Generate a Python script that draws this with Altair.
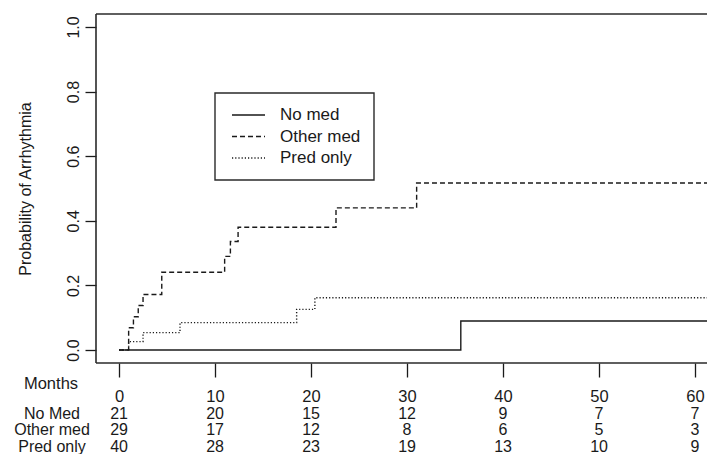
import altair as alt
import pandas as pd

# ---- data ----
series_names = ["No med", "Other med", "Pred only"]

no_med_t = [0, 35.6, 62.4]
no_med_p = [0, 0.09, 0.09]

other_t = [0, 1.0, 1.5, 2.0, 2.5, 4.45, 11.0, 11.6, 12.4, 22.6, 31.0, 62.4]
other_p = [0, 0.069, 0.103, 0.138, 0.172, 0.241, 0.29, 0.336, 0.38, 0.44, 0.517, 0.517]

pred_t = [0, 1.0, 2.5, 6.35, 18.5, 20.4, 62.4]
pred_p = [0, 0.026, 0.054, 0.085, 0.126, 0.162, 0.162]

risk_months = [0, 10, 20, 30, 40, 50, 60]
risk_rows = ["No Med", "Other med", "Pred only"]
risk_no_med = [21, 20, 15, 12, 9, 7, 7]
risk_other = [29, 17, 12, 8, 6, 5, 3]
risk_pred = [40, 28, 23, 19, 13, 10, 9]

y_ticks = [0.0, 0.2, 0.4, 0.6, 0.8, 1.0]

# ---- layout constants ----
W, H = 611, 349
PX_PER_MONTH = 9.6
FONT = "Liberation Sans"
INK = "#1a1a1a"
TFS = 16  # table font size

rows = []
for name, ts, ps in [("No med", no_med_t, no_med_p),
                     ("Other med", other_t, other_p),
                     ("Pred only", pred_t, pred_p)]:
    for t, p in zip(ts, ps):
        rows.append({"series": name, "t": t, "p": p})
curves = pd.DataFrame(rows)

xscale = alt.Scale(domain=[-2.4, -2.4 + W / PX_PER_MONTH], nice=False, zero=False)
yscale = alt.Scale(domain=[-0.04, 1.04], nice=False, zero=False)

dash_scale = alt.Scale(domain=series_names, range=[[1, 0], [5, 3], [1.2, 2]])

lines = alt.Chart(curves).mark_line(
    interpolate="step-after", color=INK, strokeWidth=1.4, clip=True
).encode(
    x=alt.X("t:Q", scale=xscale, axis=alt.Axis(
        values=risk_months, title=None, domain=False, grid=False,
        tickColor=INK, tickSize=14, tickWidth=1.3,
        labelFont=FONT, labelFontSize=TFS + 0.5, labelColor=INK, labelPadding=11,
        labelFlush=False)),
    y=alt.Y("p:Q", scale=yscale, axis=alt.Axis(
        values=y_ticks, format=".1f", domain=False, grid=False,
        tickColor=INK, tickSize=11, tickWidth=1.3,
        labelFont=FONT, labelFontSize=16, labelColor=INK,
        labelAngle=270, labelAlign="center", labelBaseline="alphabetic",
        labelPadding=7, labelFlush=False,
        title="Probability of Arrhythmia", titleFont=FONT, titleFontSize=16,
        titleFontWeight="normal", titleColor=INK, titleAngle=270,
        titleAlign="center", titleBaseline="alphabetic",
        titleX=-66, titleY=H / 2)),
    strokeDash=alt.StrokeDash("series:N", scale=dash_scale, legend=None),
    detail="series:N",
)

# plot box (top, left, bottom) -- right edge lies outside the picture
box_df = pd.DataFrame({"k": [0]})
box_top = alt.Chart(box_df).mark_rule(color="#2a2a2a", strokeWidth=1.6).encode(
    x=alt.value(0), x2=alt.value(W + 10), y=alt.value(0))
box_left = alt.Chart(box_df).mark_rule(color="#2a2a2a", strokeWidth=1.6).encode(
    x=alt.value(0), y=alt.value(0), y2=alt.value(H))
box_bottom = alt.Chart(box_df).mark_rule(color="#2a2a2a", strokeWidth=1.6).encode(
    x=alt.value(0), x2=alt.value(W + 10), y=alt.value(H))

# legend (drawn by hand, R style)
leg_box = alt.Chart(box_df).mark_rect(
    fill="white", stroke="#2a2a2a", strokeWidth=1.4
).encode(x=alt.value(119), x2=alt.value(278), y=alt.value(79), y2=alt.value(166))

leg_y = [101, 122.5, 144]
leg_dash = [[1, 0], [5, 3], [1.2, 2]]
legend_layers = [leg_box]
for name, yy, dsh in zip(series_names, leg_y, leg_dash):
    d = pd.DataFrame({"label": [name]})
    legend_layers.append(
        alt.Chart(d).mark_rule(color=INK, strokeWidth=1.4, strokeDash=dsh).encode(
            x=alt.value(136), x2=alt.value(169), y=alt.value(yy)))
    legend_layers.append(
        alt.Chart(d).mark_text(align="left", baseline="middle", font=FONT,
                               fontSize=17, color=INK).encode(
            x=alt.value(184), y=alt.value(yy), text="label:N"))

# number-at-risk table
table_layers = []
months_df = pd.DataFrame({"label": ["Months"]})
table_layers.append(
    alt.Chart(months_df).mark_text(align="center", baseline="middle", font=FONT,
                                   fontSize=TFS + 0.5, color=INK).encode(
        x=alt.value(-45), y=alt.value(370), text="label:N"))
row_y = [399.5, 416, 432.5]
for rname, vals, yy in zip(risk_rows, [risk_no_med, risk_other, risk_pred], row_y):
    lab = pd.DataFrame({"label": [rname]})
    table_layers.append(
        alt.Chart(lab).mark_text(align="center", baseline="middle", font=FONT,
                                 fontSize=TFS, color=INK).encode(
            x=alt.value(-44), y=alt.value(yy), text="label:N"))
    nd = pd.DataFrame({"t": risk_months, "n": vals})
    table_layers.append(
        alt.Chart(nd).mark_text(align="center", baseline="middle", font=FONT,
                                fontSize=TFS, color=INK).encode(
            x=alt.X("t:Q", scale=xscale), y=alt.value(yy), text="n:Q"))

chart = alt.layer(
    lines, box_top, box_left, box_bottom, *legend_layers, *table_layers
).properties(
    width=W, height=H,
    autosize=alt.AutoSizeParams(type="none"),
    padding={"left": 88, "top": 6, "right": 0, "bottom": 91},
    background="white",
).configure_view(stroke=None)

chart.save("out.html", embed_options={"renderer": "svg", "actions": False})
